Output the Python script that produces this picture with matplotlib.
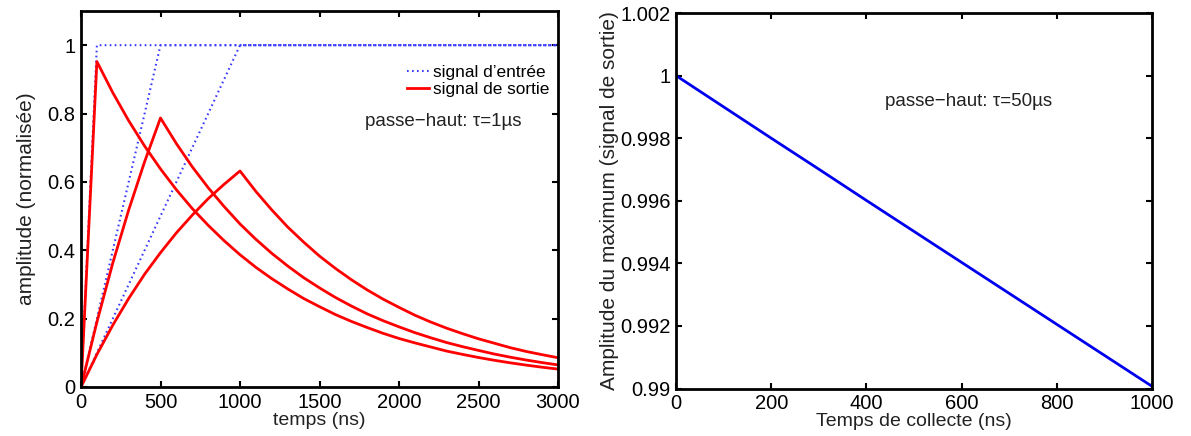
import numpy as np
import matplotlib.pyplot as plt

plt.rcParams['font.family'] = ['Liberation Sans', 'DejaVu Sans']

# gauche : signaux d'entrée (rampes) et de sortie, passe-haut tau = 1 us
t_ns = list(range(0, 3001, 100))

in_t = [[0, 100, 3000], [0, 500, 3000], [0, 1000, 3000]]
in_y = [0, 1, 1]

out_100 = [0, 0.952, 0.861, 0.779, 0.705, 0.638, 0.577, 0.522, 0.473, 0.428,
           0.387, 0.350, 0.317, 0.287, 0.259, 0.235, 0.212, 0.192, 0.174, 0.157,
           0.142, 0.129, 0.117, 0.105, 0.0954, 0.0863, 0.0781, 0.0707, 0.0640,
           0.0579, 0.0524]
out_500 = [0, 0.190, 0.363, 0.518, 0.659, 0.787, 0.712, 0.644, 0.583, 0.528,
           0.477, 0.432, 0.391, 0.354, 0.320, 0.290, 0.262, 0.237, 0.214, 0.194,
           0.176, 0.159, 0.144, 0.130, 0.118, 0.107, 0.0964, 0.0872, 0.0789,
           0.0714, 0.0646]
out_1000 = [0, 0.0952, 0.181, 0.259, 0.330, 0.393, 0.451, 0.503, 0.551, 0.593,
            0.632, 0.572, 0.518, 0.468, 0.424, 0.383, 0.347, 0.314, 0.284, 0.257,
            0.233, 0.210, 0.190, 0.172, 0.156, 0.141, 0.128, 0.115, 0.104,
            0.0946, 0.0856]

# droite : amplitude du maximum en fonction du temps de collecte, tau = 50 us
tc_ns = [0, 100, 200, 300, 400, 500, 600, 700, 800, 900, 1000]
amp_max = [1.0, 0.99900, 0.99800, 0.99701, 0.99601, 0.99502, 0.99403,
           0.99304, 0.99205, 0.99106, 0.99007]

W, H = 1191, 436
fig = plt.figure(figsize=(W / 100, H / 100), dpi=100)
ax1 = fig.add_axes([81 / W, 1 - 387 / H, 477 / W, 376 / H])
ax2 = fig.add_axes([676 / W, 1 - 388.5 / H, 476 / W, 375.5 / H])

for i, tt in enumerate(in_t):
    ax1.plot(tt, in_y, color='#3a3aff', ls=(0, (0.8, 1.6)), lw=1.5,
             label="signal d’entrée" if i == 0 else None)
for i, yy in enumerate([out_100, out_500, out_1000]):
    ax1.plot(t_ns, yy, color='#ff0000', lw=2,
             label='signal de sortie' if i == 0 else None)

ax1.set_xlim(0, 3000)
ax1.set_ylim(0, 1.1)
ax1.set_xticks([0, 500, 1000, 1500, 2000, 2500, 3000])
ax1.set_yticks([0, 0.2, 0.4, 0.6, 0.8, 1])
ax1.set_yticklabels(['0', '0.2', '0.4', '0.6', '0.8', '1'])
ax1.set_xlabel('temps (ns)', fontsize=14, labelpad=0, color='#222222')
ax1.set_ylabel('amplitude (normalisée)', fontsize=15, labelpad=8, color='#222222')
ax1.legend(loc='upper left', bbox_to_anchor=(0.683, 0.857), frameon=False,
           borderpad=0, borderaxespad=0, fontsize=12.4, handlelength=1.3,
           handletextpad=0.25, labelspacing=0.12)
ax1.text(1786, 0.776, 'passe−haut: τ=1µs', fontsize=13.5, va='center', ha='left',
         color='#222222')

ax2.plot(tc_ns, amp_max, color='#0000ee', lw=2)
ax2.set_xlim(0, 1000)
ax2.set_ylim(0.99, 1.002)
ax2.set_xticks([0, 200, 400, 600, 800, 1000])
ax2.set_yticks([0.99, 0.992, 0.994, 0.996, 0.998, 1.0, 1.002])
ax2.set_yticklabels(['0.99', '0.992', '0.994', '0.996', '0.998', '1', '1.002'])
ax2.set_xlabel('Temps de collecte (ns)', fontsize=14, labelpad=0, color='#222222')
ax2.set_ylabel('Amplitude du maximum (signal de sortie)', fontsize=15, labelpad=1,
               color='#222222')
ax2.text(439, 0.99918, 'passe−haut: τ=50µs', fontsize=13.5, va='center', ha='left',
         color='#222222')

for ax in (ax1, ax2):
    ax.tick_params(direction='in', top=True, right=True, length=4, width=1.5,
                   labelsize=14.5, pad=4)
    for s in ax.spines.values():
        s.set_linewidth(2)

fig.savefig('out.png', dpi=100)
